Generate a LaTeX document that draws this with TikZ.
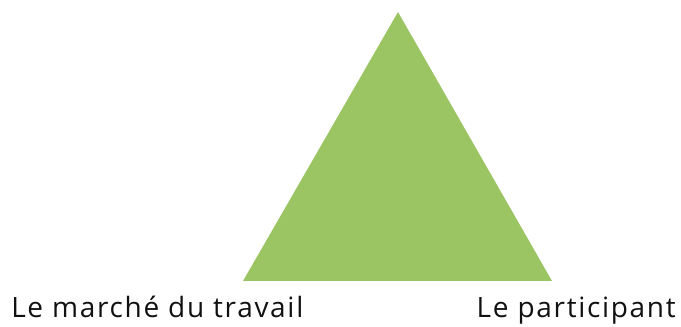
\documentclass[tikz,border=0pt]{standalone}
\usepackage{fontspec}
\setmainfont{Open Sans}[LetterSpace=6]
\usepackage{xcolor}
\usetikzlibrary{calc,positioning}
\definecolor{trigreen}{HTML}{9BC462}
\definecolor{labeltext}{HTML}{111111}

\begin{document}
\begin{tikzpicture}[x=0.75pt,y=-0.75pt]
      \tikzstyle{every node}=[inner sep=0pt, text=labeltext, font=\fontsize{21}{25}\selectfont]
      \tikzstyle{lbl}=[anchor=base west]
      \useasboundingbox (0,0) rectangle (681,327);
      \coordinate (top) at (398,12);
      \coordinate (left) at (243,281);
      \coordinate (right) at (552,281);
      \fill[trigreen] (top) -- (right) -- (left) -- cycle;
      \node[lbl] (market) at (11,317) {Le marché du travail};
      \node[lbl,anchor=base east] (part) at (676,317) {Le participant};
    \end{tikzpicture}
\end{document}
